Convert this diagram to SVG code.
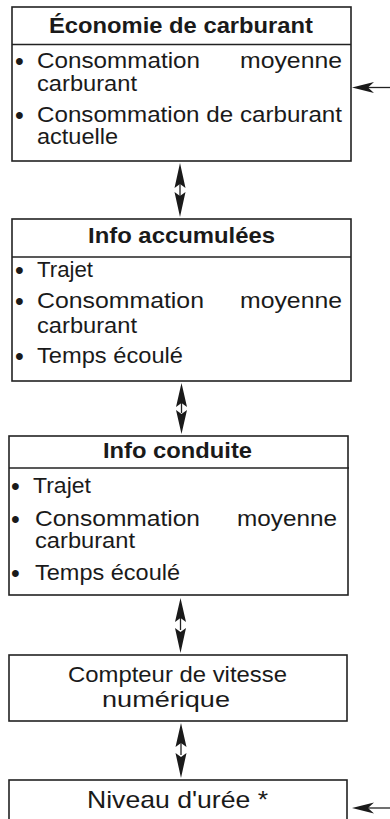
<svg xmlns="http://www.w3.org/2000/svg" width="390" height="819" viewBox="0 0 390 819">
<style>
.box{fill:#fff;stroke:#222;stroke-width:1.6}
.div{stroke:#222;stroke-width:1.6}
.t{font-family:"Liberation Sans",Arial,sans-serif;font-size:21.5px;fill:#1a1a1a}
.b{font-weight:bold}
.bu{font-family:"Liberation Sans",Arial,sans-serif;font-size:25px;fill:#1a1a1a}
.ln{stroke:#222;stroke-width:1.3;fill:none}
.hd{fill:#1a1a1a}
</style>
<rect width="390" height="819" fill="#fff"/>
<g id="connectors">
  <g id="a1">
    <path class="hd" d="M180,163 L185.5,188 L180,184 L174.5,188 Z"/>
    <line class="ln" x1="180" y1="184" x2="180" y2="196"/>
    <path class="hd" d="M180,217 L185.5,192 L180,196 L174.5,192 Z"/>
  </g>
  <g id="a2">
    <path class="hd" d="M181.5,383 L187,407 L181.5,403 L176,407 Z"/>
    <line class="ln" x1="181.5" y1="403" x2="181.5" y2="413"/>
    <path class="hd" d="M181.5,434 L187,410 L181.5,414 L176,410 Z"/>
  </g>
  <g id="a3">
    <path class="hd" d="M180.5,598 L186,622 L180.5,618 L175,622 Z"/>
    <line class="ln" x1="180.5" y1="618" x2="180.5" y2="630"/>
    <path class="hd" d="M180.5,653 L186,628 L180.5,632 L175,628 Z"/>
  </g>
  <g id="a4">
    <path class="hd" d="M181,723 L186.5,747 L181,743 L175.5,747 Z"/>
    <line class="ln" x1="181" y1="743" x2="181" y2="755"/>
    <path class="hd" d="M181,778 L186.5,753 L181,757 L175.5,753 Z"/>
  </g>
  <g id="in1">
    <line class="ln" x1="390" y1="87.5" x2="366" y2="87.5"/>
    <path class="hd" d="M352,87.5 L374,82 L368,87.5 L374,93 Z"/>
  </g>
  <g id="in2">
    <line class="ln" x1="390" y1="808" x2="366" y2="808"/>
    <path class="hd" d="M352,808 L374,802.5 L368,808 L374,813.5 Z"/>
  </g>
</g>
<g id="economie">
  <rect class="box" x="12" y="7" width="339" height="154"/>
  <line class="div" x1="12" y1="44.5" x2="351" y2="44.5"/>
  <text class="t b" x="49" y="33" textLength="264" lengthAdjust="spacingAndGlyphs">Économie de carburant</text>
  <text class="bu" x="15" y="70">•</text>
  <text class="t" x="37" y="68" textLength="163" lengthAdjust="spacingAndGlyphs">Consommation</text>
  <text class="t" x="240" y="68" textLength="102" lengthAdjust="spacingAndGlyphs">moyenne</text>
  <text class="t" x="37" y="91" textLength="100" lengthAdjust="spacingAndGlyphs">carburant</text>
  <text class="bu" x="15" y="124">•</text>
  <text class="t" x="37" y="122" textLength="305" lengthAdjust="spacingAndGlyphs">Consommation de carburant</text>
  <text class="t" x="37" y="144" textLength="81" lengthAdjust="spacingAndGlyphs">actuelle</text>
</g>
<g id="accumulees">
  <rect class="box" x="12" y="219" width="339" height="162"/>
  <line class="div" x1="12" y1="257" x2="351" y2="257"/>
  <text class="t b" x="88" y="243" textLength="187" lengthAdjust="spacingAndGlyphs">Info accumulées</text>
  <text class="bu" x="15" y="279">•</text>
  <text class="t" x="37" y="277" textLength="56" lengthAdjust="spacingAndGlyphs">Trajet</text>
  <text class="bu" x="15" y="310">•</text>
  <text class="t" x="37" y="308" textLength="167" lengthAdjust="spacingAndGlyphs">Consommation</text>
  <text class="t" x="240" y="308" textLength="102" lengthAdjust="spacingAndGlyphs">moyenne</text>
  <text class="t" x="37" y="333" textLength="100" lengthAdjust="spacingAndGlyphs">carburant</text>
  <text class="bu" x="15" y="365">•</text>
  <text class="t" x="37" y="363" textLength="146" lengthAdjust="spacingAndGlyphs">Temps écoulé</text>
</g>
<g id="conduite">
  <rect class="box" x="9" y="436" width="339" height="159"/>
  <line class="div" x1="9" y1="468" x2="349" y2="468"/>
  <text class="t b" x="103" y="458" textLength="149" lengthAdjust="spacingAndGlyphs">Info conduite</text>
  <text class="bu" x="11" y="495">•</text>
  <text class="t" x="33" y="493" textLength="58" lengthAdjust="spacingAndGlyphs">Trajet</text>
  <text class="bu" x="11" y="528">•</text>
  <text class="t" x="35" y="526" textLength="165" lengthAdjust="spacingAndGlyphs">Consommation</text>
  <text class="t" x="237" y="526" textLength="100" lengthAdjust="spacingAndGlyphs">moyenne</text>
  <text class="t" x="35" y="548" textLength="100" lengthAdjust="spacingAndGlyphs">carburant</text>
  <text class="bu" x="11" y="582">•</text>
  <text class="t" x="35" y="580" textLength="145" lengthAdjust="spacingAndGlyphs">Temps écoulé</text>
</g>
<g id="compteur">
  <rect class="box" x="9" y="655" width="338" height="66"/>
  <text class="t" x="68" y="682" textLength="219" lengthAdjust="spacingAndGlyphs">Compteur de vitesse</text>
  <text class="t" x="102" y="707" textLength="128" lengthAdjust="spacingAndGlyphs">numérique</text>
</g>
<g id="uree">
  <rect class="box" x="9" y="780" width="338" height="50"/>
  <text class="t" style="font-size:24px" x="87" y="808" textLength="181" lengthAdjust="spacingAndGlyphs">Niveau d'urée *</text>
</g>
</svg>
